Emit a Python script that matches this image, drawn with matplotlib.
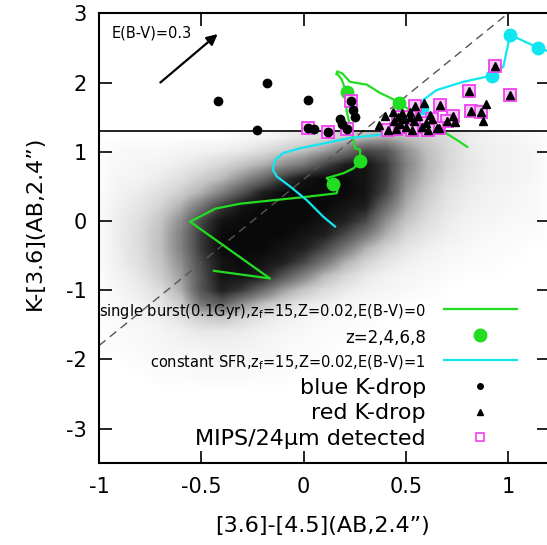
import numpy as np
import matplotlib
matplotlib.use("Agg")
import matplotlib.pyplot as plt
from matplotlib.lines import Line2D
from matplotlib.colors import PowerNorm

plt.rcParams['font.family'] = ['DejaVu Sans']
plt.rcParams['axes.unicode_minus'] = False
plt.rcParams['mathtext.default'] = 'regular'

# ---------------- data ----------------
x_ticks = [-1, -0.5, 0, 0.5, 1]
x_tick_labels = ['-1', '-0.5', '0', '0.5', '1']
y_ticks = [-3, -2, -1, 0, 1, 2, 3]
y_tick_labels = ['-3', '-2', '-1', '0', '1', '2', '3']

# background field galaxies: estimated density (0..9) on a grid
cloud_x = [-1.0, -0.9, -0.8, -0.7, -0.6, -0.5, -0.4, -0.3, -0.2, -0.1, 0.0, 0.1,
           0.2, 0.3, 0.4, 0.5, 0.6, 0.7, 0.8, 0.9, 1.0, 1.1, 1.2]
cloud_y = [-2.4, -2.2, -2.0, -1.8, -1.6, -1.4, -1.2, -1.0, -0.8, -0.6, -0.4, -0.2,
           0.0, 0.2, 0.4, 0.6, 0.8, 1.0, 1.2]
cloud_density = [
    [0, 0, 0, 0, 0, 0, 0, 0, 0, 0, 0, 0, 0, 0, 0, 0, 0, 0, 0, 0, 0, 0, 0],
    [0, 0, 0, 0.05, 0.05, 0.1, 0.1, 0.1, 0.05, 0.05, 0, 0, 0, 0, 0, 0, 0, 0, 0, 0, 0, 0, 0],
    [0, 0, 0.05, 0.1, 0.1, 0.15, 0.2, 0.15, 0.1, 0.05, 0.05, 0, 0, 0, 0, 0, 0, 0, 0, 0, 0, 0, 0],
    [0, 0.05, 0.1, 0.15, 0.25, 0.3, 0.35, 0.3, 0.2, 0.1, 0.05, 0.05, 0, 0, 0, 0, 0, 0, 0, 0, 0, 0, 0],
    [0, 0.05, 0.1, 0.2, 0.4, 0.6, 0.6, 0.5, 0.3, 0.2, 0.1, 0.05, 0.05, 0, 0, 0, 0, 0, 0, 0, 0, 0, 0],
    [0, 0.1, 0.2, 0.4, 0.8, 1.5, 1.8, 1.2, 0.7, 0.4, 0.2, 0.1, 0.05, 0.05, 0, 0, 0, 0, 0, 0, 0, 0, 0],
    [0, 0.1, 0.3, 0.7, 1.5, 4.5, 5.5, 3.5, 2.0, 1.2, 0.6, 0.4, 0.2, 0.1, 0.05, 0, 0, 0, 0, 0, 0, 0, 0],
    [0, 0.2, 0.5, 1.0, 2.5, 6.0, 8.0, 7.0, 5.0, 3.0, 1.8, 1.0, 0.6, 0.3, 0.2, 0.1, 0.05, 0, 0, 0, 0, 0, 0],
    [0, 0.3, 0.7, 1.5, 3.0, 6.0, 8.5, 8.5, 8.0, 6.0, 4.0, 2.2, 1.2, 0.6, 0.3, 0.2, 0.1, 0.05, 0, 0, 0, 0, 0],
    [0, 0.4, 0.9, 1.8, 3.5, 6.5, 8.5, 9.0, 8.5, 8.0, 6.5, 4.5, 2.5, 1.3, 0.7, 0.4, 0.2, 0.1, 0.05, 0.05, 0, 0, 0],
    [0, 0.5, 1.0, 2.0, 4.0, 7.0, 9.0, 9.0, 9.0, 8.5, 8.0, 6.5, 4.5, 2.5, 1.3, 0.7, 0.4, 0.2, 0.1, 0.05, 0.05, 0, 0],
    [0, 0.5, 1.0, 2.0, 4.0, 7.0, 9.0, 9.0, 9.0, 9.0, 8.5, 8.0, 6.5, 4.5, 2.5, 1.2, 0.7, 0.4, 0.2, 0.1, 0.05, 0.05, 0],
    [0, 0.5, 0.9, 1.8, 3.5, 6.5, 8.5, 9.0, 9.0, 9.0, 9.0, 8.5, 8.0, 6.5, 3.5, 1.8, 1.0, 0.5, 0.3, 0.2, 0.1, 0.1, 0],
    [0, 0.4, 0.7, 1.3, 2.5, 4.5, 7.0, 8.5, 9.0, 9.0, 9.0, 9.0, 8.5, 8.0, 5.0, 2.5, 1.3, 0.7, 0.4, 0.3, 0.2, 0.1, 0],
    [0, 0.3, 0.5, 0.9, 1.5, 2.5, 4.0, 6.0, 8.0, 9.0, 9.0, 9.0, 9.0, 8.5, 6.5, 3.0, 1.6, 0.8, 0.5, 0.3, 0.2, 0.1, 0],
    [0, 0.2, 0.3, 0.5, 0.9, 1.5, 2.2, 3.5, 5.0, 7.0, 8.5, 9.0, 9.0, 8.5, 7.0, 3.5, 2.0, 1.0, 0.6, 0.4, 0.3, 0.2, 0],
    [0, 0.1, 0.2, 0.3, 0.5, 0.8, 1.2, 1.8, 2.5, 3.5, 4.5, 6.5, 8.0, 8.5, 7.0, 4.0, 2.2, 1.2, 0.7, 0.4, 0.3, 0.2, 0],
    [0, 0.1, 0.1, 0.1, 0.2, 0.3, 0.4, 0.6, 1.0, 1.5, 2.0, 3.0, 4.5, 6.5, 6.0, 3.5, 2.0, 1.2, 0.6, 0.4, 0.3, 0.2, 0],
    [0, 0, 0, 0, 0, 0, 0, 0.1, 0.2, 0.4, 0.7, 1.0, 1.5, 2.0, 2.5, 2.0, 1.5, 1.0, 0.5, 0.3, 0.2, 0.1, 0],
]

# selection lines
kdrop_cut = 1.3
cut_slope = 2.4
cut_intercept = 0.6

# reddening vector E(B-V)=0.3
redvec_start = (-0.70, 2.00)
redvec_end = (-0.42, 2.70)

# single burst track (green)
burst_x = [-0.438, -0.164, -0.555, -0.43, -0.31, -0.147, 0.016, 0.162, 0.17, 0.143,
           0.113, 0.195, 0.244, 0.276, 0.276, 0.252, 0.244, 0.235, 0.225, 0.21,
           0.21, 0.187, 0.17, 0.16, 0.165, 0.19, 0.227, 0.309, 0.374, 0.43,
           0.467, 0.52, 0.57, 0.65, 0.684, 0.75, 0.80]
burst_y = [-0.72, -0.83, -0.01, 0.18, 0.25, 0.30, 0.35, 0.40, 0.50, 0.53,
           0.62, 0.69, 0.76, 0.86, 1.03, 1.05, 1.17, 1.30, 1.40, 1.60,
           1.85, 2.04, 2.11, 2.12, 2.16, 2.13, 2.01, 1.97, 1.85, 1.77,
           1.71, 1.60, 1.46, 1.46, 1.29, 1.17, 1.07]
burst_z_x = [0.143, 0.276, 0.211, 0.467]
burst_z_y = [0.53, 0.86, 1.87, 1.71]

# constant SFR track (cyan)
csfr_x = [0.154, 0.097, 0.016, -0.066, -0.13, -0.15, -0.14, -0.10, -0.017, 0.097,
          0.227, 0.358, 0.45, 0.505, 0.55, 0.57, 0.58, 0.586, 0.65, 0.78,
          0.92, 0.977, 0.994, 1.01, 1.148, 1.25]
csfr_y = [-0.08, 0.06, 0.30, 0.50, 0.64, 0.74, 0.88, 0.98, 1.05, 1.12,
          1.20, 1.24, 1.28, 1.36, 1.48, 1.56, 1.63, 1.75, 1.89, 2.01,
          2.10, 2.23, 2.47, 2.69, 2.50, 2.40]
csfr_z_x = [0.58, 0.92, 1.01, 1.148]
csfr_z_y = [1.63, 2.10, 2.69, 2.50]

# blue K-drops
blue_x = [-0.42, -0.18, 0.02, -0.23, 0.02, 0.05, 0.12, 0.21, 0.23, 0.24, 0.25, 0.18, 0.19]
blue_y = [1.73, 2.00, 1.75, 1.32, 1.34, 1.33, 1.29, 1.33, 1.73, 1.60, 1.50, 1.47, 1.40]

# red K-drops
red_x = [0.938, 0.809, 1.01, 0.892, 0.667, 0.817, 0.868, 0.879, 0.73, 0.70,
         0.741, 0.591, 0.545, 0.664, 0.40, 0.37, 0.436, 0.483, 0.52, 0.62,
         0.415, 0.45, 0.49, 0.54, 0.58, 0.63, 0.65, 0.47, 0.50, 0.52,
         0.56, 0.60, 0.44, 0.53, 0.61, 0.46]
red_y = [2.24, 1.88, 1.82, 1.69, 1.68, 1.59, 1.57, 1.45, 1.52, 1.44,
         1.43, 1.70, 1.66, 1.34, 1.51, 1.39, 1.58, 1.56, 1.57, 1.53,
         1.32, 1.33, 1.48, 1.44, 1.36, 1.48, 1.34, 1.40, 1.36, 1.50,
         1.52, 1.42, 1.45, 1.32, 1.32, 1.50]

# MIPS 24um detected
mips_x = [0.02, 0.12, 0.21, 0.23, 0.938, 0.809, 1.01, 0.667, 0.817, 0.868,
          0.73, 0.70, 0.545, 0.664, 0.415, 0.45, 0.49, 0.54, 0.58, 0.63,
          0.65, 0.47, 0.50, 0.52, 0.60, 0.53, 0.61, 0.46]
mips_y = [1.34, 1.29, 1.33, 1.73, 2.24, 1.88, 1.82, 1.68, 1.59, 1.57,
          1.52, 1.44, 1.66, 1.34, 1.32, 1.33, 1.48, 1.44, 1.36, 1.48,
          1.34, 1.40, 1.36, 1.50, 1.42, 1.32, 1.32, 1.50]

labels = ['single burst(0.1Gyr),z$_\\mathregular{f}$=15,Z=0.02,E(B-V)=0',
          'z=2,4,6,8',
          'constant SFR,z$_\\mathregular{f}$=15,Z=0.02,E(B-V)=1',
          'blue K-drop',
          'red K-drop',
          'MIPS/24\u03bcm detected']

GREEN = '#22dd22'
CYAN = '#11e6f0'
MAGENTA = '#f040f0'

# ---------------- figure ----------------
fig = plt.figure(figsize=(5.47, 5.45), dpi=100)
ax = fig.add_axes([99 / 547, (545 - 463.3) / 545, 450 / 547, 450 / 545])

dx = (cloud_x[1] - cloud_x[0]) / 2
dy = (cloud_y[1] - cloud_y[0]) / 2
ax.imshow(np.array(cloud_density), origin='lower', cmap='Greys',
          norm=PowerNorm(gamma=0.65, vmin=0, vmax=9.5),
          extent=[cloud_x[0] - dx, cloud_x[-1] + dx, cloud_y[0] - dy, cloud_y[-1] + dy],
          interpolation='bilinear', aspect='auto', zorder=0)

ax.axline((0, cut_intercept), slope=cut_slope, color='#555555', lw=1.0,
          ls=(0, (6, 4)), zorder=1)
ax.axhline(kdrop_cut, color='black', lw=1.2, zorder=1)

ax.plot(burst_x, burst_y, color=GREEN, lw=1.6, zorder=3)
ax.plot(burst_z_x, burst_z_y, 'o', color=GREEN, ms=9, zorder=4)
ax.plot(csfr_x, csfr_y, color=CYAN, lw=1.6, zorder=3)
ax.plot(csfr_z_x, csfr_z_y, 'o', color=CYAN, ms=9, zorder=4)

ax.plot(mips_x, mips_y, 's', mfc='#f8c8f8', mec=MAGENTA, mew=1.3, ms=8, zorder=5)
ax.plot(blue_x, blue_y, 'o', color='black', ms=6, zorder=6)
ax.plot(red_x, red_y, '^', color='black', ms=5.5, zorder=6)

ax.annotate('', xy=redvec_end, xytext=redvec_start,
            arrowprops=dict(arrowstyle='-|>', lw=1.6, color='black', mutation_scale=16,
                            shrinkA=0, shrinkB=0), zorder=7)
ax.text(-0.94, 2.72, 'E(B-V)=0.3', fontsize=10.5, va='center', ha='left')

ax.set_xlim(-1, 1.2)
ax.set_ylim(-3.5, 3)
ax.set_xticks(x_ticks)
ax.set_xticklabels(x_tick_labels)
ax.set_yticks(y_ticks)
ax.set_yticklabels(y_tick_labels)
ax.tick_params(direction='in', top=True, right=True, length=9, width=1.2,
               labelsize=15)
ax.tick_params(axis='x', pad=10)
ax.tick_params(axis='y', pad=9)
for s in ax.spines.values():
    s.set_linewidth(1.5)

ax.set_xlabel('[3.6]-[4.5](AB,2.4\u201d)', fontsize=16)
ax.set_ylabel('K-[3.6](AB,2.4\u201d)', fontsize=16)
ax.xaxis.set_label_coords(0.497, -0.118)
ax.yaxis.set_label_coords(-0.12, 0.534)

handles = [Line2D([], [], color=GREEN, lw=1.6),
           Line2D([], [], ls='', marker='o', color=GREEN, ms=9),
           Line2D([], [], color=CYAN, lw=1.6),
           Line2D([], [], ls='', marker='o', color='black', ms=4),
           Line2D([], [], ls='', marker='^', color='black', ms=4),
           Line2D([], [], ls='', marker='s', mfc='white', mec=MAGENTA, mew=1.2, ms=6)]
leg = ax.legend(handles, labels, loc='upper right', bbox_to_anchor=(0.929, 0.361),
                markerfirst=False, frameon=False, fontsize=16, handlelength=3.3,
                handletextpad=0.8, labelspacing=0.25, borderpad=0, borderaxespad=0)
sizes = [10.5, 12, 10.5, 16, 16, 16]
for t, s in zip(leg.get_texts(), sizes):
    t.set_fontsize(s)

fig.savefig('out.png', dpi=100)
